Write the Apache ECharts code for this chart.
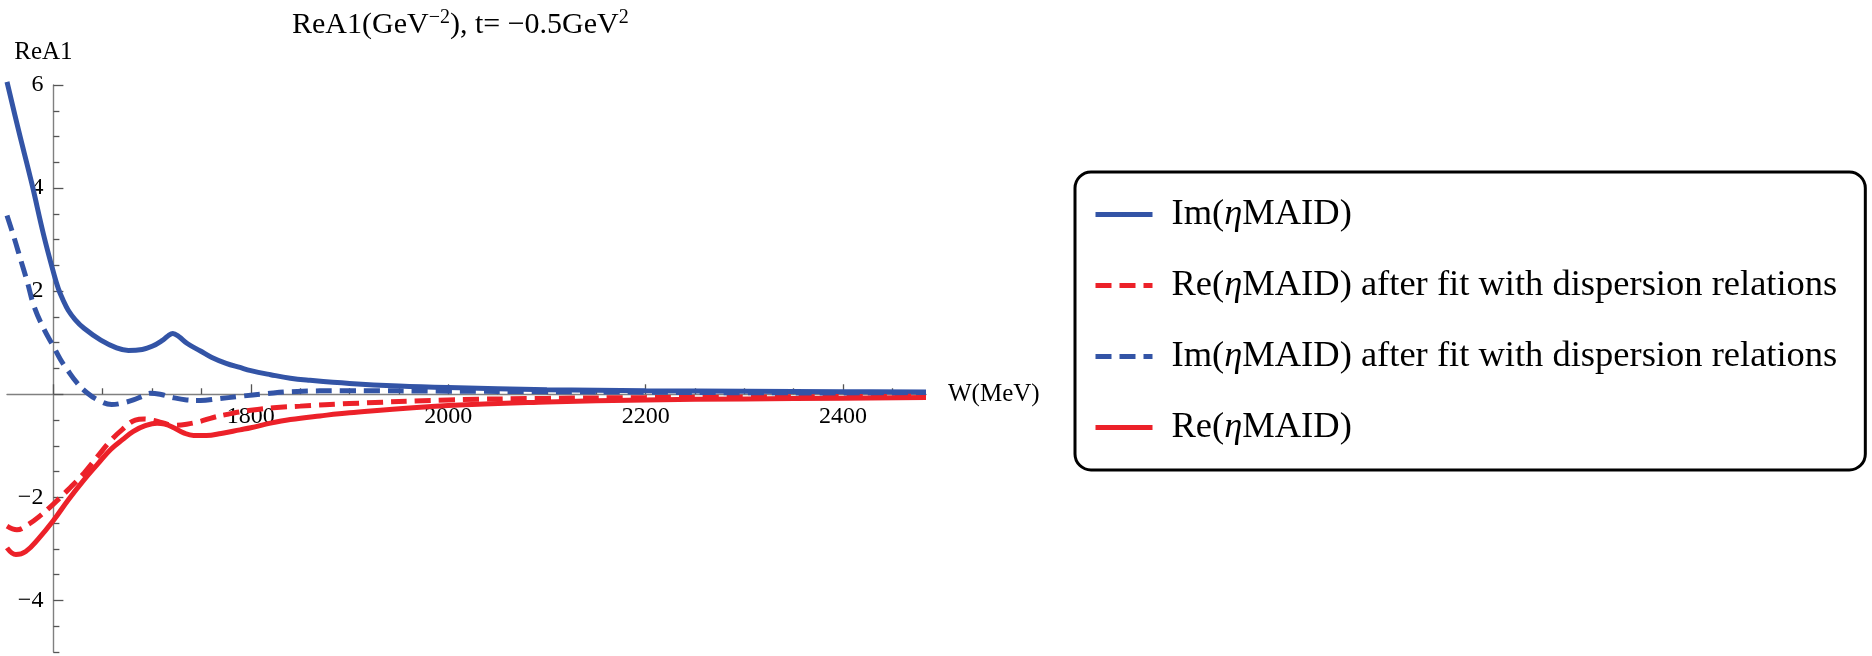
<!DOCTYPE html>
<html>
<head>
<meta charset="utf-8">
<script src="https://cdn.jsdelivr.net/npm/echarts@6/dist/echarts.min.js"></script>
<style>
  html, body { margin: 0; padding: 0; background: #ffffff; }
  #chart { width: 1872px; height: 656px; }
</style>
</head>
<body>
<div id="chart"></div>
<script>
// ReA1 amplitude versus W at t = -0.5 GeV^2

// Im(ηMAID)
const imMaidW = [1553, 1565, 1578, 1590, 1600, 1605, 1610, 1615, 1622, 1631, 1648, 1664, 1676, 1690, 1700, 1710, 1716, 1721, 1727, 1736, 1749, 1760, 1775, 1789, 1800, 1820, 1840, 1860, 1900, 1950, 2000, 2100, 2200, 2300, 2400, 2484];
const imMaidV = [6.06, 5.1, 4.1, 3.1, 2.37, 2.05, 1.82, 1.63, 1.45, 1.28, 1.05, 0.9, 0.85, 0.87, 0.93, 1.04, 1.13, 1.18, 1.12, 0.98, 0.84, 0.72, 0.6, 0.52, 0.46, 0.38, 0.31, 0.27, 0.21, 0.16, 0.13, 0.09, 0.07, 0.06, 0.05, 0.045];

// Re(ηMAID) after fit with dispersion relations
const reFitW = [1553, 1563, 1575, 1587, 1600, 1615, 1631, 1645, 1658, 1670, 1683, 1692, 1700, 1708, 1722, 1735, 1748, 1762, 1776, 1800, 1823, 1850, 1900, 2000, 2100, 2200, 2300, 2400, 2484];
const reFitV = [-2.56, -2.63, -2.52, -2.35, -2.13, -1.85, -1.53, -1.2, -0.9, -0.68, -0.5, -0.48, -0.5, -0.54, -0.6, -0.58, -0.53, -0.45, -0.39, -0.31, -0.26, -0.23, -0.18, -0.11, -0.08, -0.065, -0.055, -0.045, -0.04];

// Im(ηMAID) after fit with dispersion relations
const imFitW = [1553, 1560, 1567, 1574, 1580, 1590, 1600, 1607, 1614, 1624, 1634, 1646, 1659, 1670, 1681, 1690, 1698, 1708, 1720, 1735, 1749, 1766, 1789, 1815, 1840, 1900, 2000, 2100, 2200, 2300, 2400, 2484];
const imFitV = [3.47, 3.05, 2.6, 2.15, 1.73, 1.28, 0.93, 0.68, 0.48, 0.22, 0.03, -0.12, -0.2, -0.17, -0.11, -0.04, 0.02, 0.0, -0.06, -0.11, -0.12, -0.09, -0.04, 0.01, 0.05, 0.07, 0.06, 0.05, 0.04, 0.03, 0.025, 0.02];

// Re(ηMAID)
const reMaidW = [1553, 1562, 1572, 1585, 1600, 1615, 1631, 1645, 1658, 1670, 1681, 1693, 1705, 1713, 1722, 1732, 1742, 1755, 1770, 1789, 1800, 1820, 1840, 1870, 1900, 2000, 2100, 2200, 2300, 2400, 2484];
const reMaidV = [-2.98, -3.11, -3.05, -2.8, -2.45, -2.05, -1.66, -1.35, -1.07, -0.88, -0.72, -0.61, -0.56, -0.58, -0.65, -0.75, -0.8, -0.8, -0.76, -0.69, -0.65, -0.56, -0.49, -0.42, -0.36, -0.22, -0.15, -0.11, -0.09, -0.075, -0.065];

// Axis ranges, ticks and labels
const xRange = [1553, 2484];
const yRange = [-5, 6];
const xOrigin = 1600;   // where the vertical axis crosses
const yOrigin = 0;      // where the horizontal axis crosses
const xMajorTicks = [1600, 1800, 2000, 2200, 2400];
const xMinorTicks = [1650, 1700, 1750, 1850, 1900, 1950, 2050, 2100, 2150, 2250, 2300, 2350, 2450];
const xLabels = [1800, 2000, 2200, 2400];
const yMajorTicks = [-4, -2, 0, 2, 4, 6];
const yMinorTicks = [-5, -4.5, -3.5, -3, -2.5, -1.5, -1, -0.5, 0.5, 1, 1.5, 2.5, 3, 3.5, 4.5, 5, 5.5];
const yLabels = [-4, -2, 2, 4, 6];

const names = [
  'Im(ηMAID)',
  'Re(ηMAID) after fit with dispersion relations',
  'Im(ηMAID) after fit with dispersion relations',
  'Re(ηMAID)'
];

const FONT = '"Liberation Serif", "Times New Roman", serif';
const BLUE = '#3354a6';
const RED = '#ec2129';
const DASH = [16, 8];

const zip = (xs, ys) => xs.map((x, i) => [x, ys[i]]);

const GRID = { left: 7, top: 85, width: 919, height: 567 };

const axisLineStyle = { color: '#808080', width: 1.4 };
const tickLineStyle = { color: '#555555', width: 1.3 };
const labelStyle = { fontFamily: FONT, fontSize: 24, color: '#000000' };
const plain = v => String(v);
const minus = v => (v < 0 ? '\u2212' + Math.abs(v) : String(v));

function lineSeries(name, w, v, color, dashed) {
  return {
    name: name,
    type: 'line',
    data: zip(w, v),
    showSymbol: false,
    symbol: 'none',
    smooth: 0.4,
    clip: false,
    lineStyle: { color: color, width: 5, type: dashed ? DASH : 'solid', cap: 'butt' },
    itemStyle: { color: color },
    emphasis: { disabled: true }
  };
}

const chart = echarts.init(document.getElementById('chart'), null, { renderer: 'canvas' });

chart.setOption({
  animation: false,
  backgroundColor: '#ffffff',
  title: {
    text: 'ReA1(GeV{s|\u22122}), t= \u22120.5GeV{s|2}',
    left: 287,
    top: 3,
    textStyle: {
      fontFamily: FONT, fontSize: 30, fontWeight: 'normal', color: '#000000', lineHeight: 34,
      rich: {
        s: { fontFamily: FONT, fontSize: 20, color: '#000000', verticalAlign: 'top', lineHeight: 20 }
      }
    }
  },
  legend: {
    orient: 'vertical',
    left: 1075,
    top: 172,
    padding: [21, 28, 21, 18],
    itemGap: 28,
    itemWidth: 57,
    itemHeight: 5,
    borderColor: '#000000',
    borderWidth: 3,
    borderRadius: 16,
    selectedMode: false,
    lineStyle: { width: 5 },
    formatter: name => name.replace('η', '{i|η}'),
    textStyle: {
      fontFamily: FONT, fontSize: 36.5, color: '#000000', lineHeight: 43,
      padding: [0, 0, 0, 14],
      rich: { i: { fontFamily: FONT, fontSize: 36.5, fontStyle: 'italic', color: '#000000', lineHeight: 43 } }
    },
    data: names
  },
  grid: Object.assign({ containLabel: false, outerBoundsMode: 'none' }, GRID),
  xAxis: [
    {
      type: 'value',
      min: xRange[0], max: xRange[1],
      position: 'bottom',
      name: 'W(MeV)',
      nameLocation: 'end',
      nameGap: 22,
      nameTextStyle: { fontFamily: FONT, fontSize: 25, color: '#000000' },
      axisLine: { onZero: false, lineStyle: axisLineStyle },
      axisTick: { inside: true, length: 10, customValues: xMajorTicks, lineStyle: tickLineStyle },
      axisLabel: Object.assign({ customValues: xLabels, margin: 10, formatter: plain }, labelStyle),
      splitLine: { show: false }
    },
    {
      type: 'value',
      min: xRange[0], max: xRange[1],
      position: 'bottom',
      axisLine: { show: false, onZero: false },
      axisTick: { inside: true, length: 6, customValues: xMinorTicks, lineStyle: tickLineStyle },
      axisLabel: { show: false },
      splitLine: { show: false }
    }
  ],
  yAxis: [
    {
      type: 'value',
      min: yRange[0], max: yRange[1],
      position: 'left',
      name: 'ReA1',
      nameLocation: 'end',
      nameGap: 20,
      nameTextStyle: { fontFamily: FONT, fontSize: 25, color: '#000000', align: 'center', padding: [0, 20, 0, 0] },
      axisLine: { onZero: false, lineStyle: axisLineStyle },
      axisTick: { inside: true, length: 10, customValues: yMajorTicks, lineStyle: tickLineStyle },
      axisLabel: Object.assign({ customValues: yLabels, margin: 10, formatter: minus }, labelStyle),
      splitLine: { show: false }
    },
    {
      type: 'value',
      min: yRange[0], max: yRange[1],
      position: 'left',
      axisLine: { show: false, onZero: false },
      axisTick: { inside: true, length: 6, customValues: yMinorTicks, lineStyle: tickLineStyle },
      axisLabel: { show: false },
      splitLine: { show: false }
    }
  ],
  series: [
    lineSeries(names[0], imMaidW, imMaidV, BLUE, false),
    lineSeries(names[1], reFitW, reFitV, RED, true),
    lineSeries(names[2], imFitW, imFitV, BLUE, true),
    lineSeries(names[3], reMaidW, reMaidV, RED, false)
  ]
});

// Axes cross at (1600 MeV, 0): shift both axes from the grid edges onto that point
const originX = chart.convertToPixel({ xAxisIndex: 0 }, xOrigin);
const originY = chart.convertToPixel({ yAxisIndex: 0 }, yOrigin);
const yOffset = GRID.left - originX;
const xOffset = originY - (GRID.top + GRID.height);
chart.setOption({
  xAxis: [{ offset: xOffset }, { offset: xOffset }],
  yAxis: [{ offset: yOffset }, { offset: yOffset }]
});
</script>
</body>
</html>
